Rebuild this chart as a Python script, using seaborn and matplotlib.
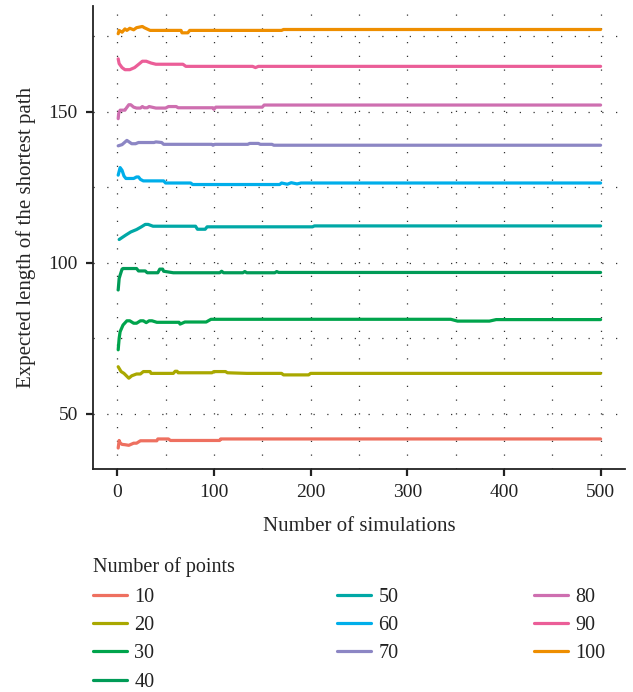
import numpy as np
import pandas as pd
import matplotlib
matplotlib.use('Agg')
import matplotlib.pyplot as plt
from matplotlib.ticker import MultipleLocator
from matplotlib.lines import Line2D
import seaborn as sns

# running mean of the shortest path length (breakpoints)
points = [10, 20, 30, 40, 50, 60, 70, 80, 90, 100]

s10_x = [1, 2, 3, 5, 8, 12, 17, 20, 24, 41, 42, 53, 55, 106, 107, 500]
s10_y = [38.7, 41.2, 40.4, 39.9, 39.8, 39.6, 40.3, 40.3, 41.1, 41.1, 41.7, 41.7, 41.2, 41.2, 41.7, 41.7]

s20_x = [1, 4, 7, 12, 15, 20, 24, 27, 34, 35, 58, 60, 62, 63, 98, 100, 112, 114, 134, 170, 172, 198, 200, 500]
s20_y = [65.6, 64.0, 63.4, 61.8, 62.6, 63.2, 63.2, 64.0, 64.0, 63.4, 63.4, 64.1, 64.1, 63.6, 63.6, 64.0, 64.0, 63.6, 63.4, 63.4, 62.9, 62.9, 63.4, 63.4]

s30_x = [1, 2, 3, 6, 10, 13, 17, 20, 24, 27, 30, 33, 36, 41, 64, 65, 70, 92, 97, 345, 352, 385, 392, 500]
s30_y = [71.2, 75.0, 77.2, 79.4, 80.8, 80.8, 80.0, 80.0, 80.8, 80.8, 80.2, 80.8, 80.8, 80.3, 80.3, 79.7, 80.4, 80.4, 81.3, 81.3, 80.7, 80.7, 81.2, 81.2]

s40_x = [1, 2, 3, 5, 6, 20, 22, 29, 31, 42, 44, 47, 48, 52, 58, 106, 108, 110, 130, 132, 134, 163, 165, 167, 500]
s40_y = [91.0, 94.8, 95.9, 97.9, 98.1, 98.1, 97.3, 97.3, 96.7, 96.7, 97.9, 97.9, 97.2, 97.0, 96.7, 96.7, 97.2, 96.7, 96.7, 97.1, 96.7, 96.7, 97.1, 96.8, 96.8]

s50_x = [2, 9, 14, 20, 25, 29, 32, 37, 81, 83, 91, 93, 202, 204, 500]
s50_y = [107.7, 109.2, 110.2, 111.0, 111.9, 112.7, 112.7, 112.1, 112.1, 111.1, 111.1, 111.9, 111.9, 112.2, 112.2]

s60_x = [1, 3, 5, 7, 9, 17, 20, 22, 24, 27, 48, 50, 76, 78, 168, 170, 176, 180, 186, 190, 500]
s60_y = [129.0, 131.5, 130.6, 128.7, 127.9, 127.9, 128.4, 128.4, 127.6, 127.1, 127.1, 126.4, 126.4, 125.9, 125.9, 126.4, 126.0, 126.5, 126.1, 126.4, 126.4]

s70_x = [1, 5, 10, 15, 19, 22, 38, 40, 46, 48, 98, 99, 101, 135, 137, 146, 148, 160, 162, 500]
s70_y = [138.7, 139.1, 140.5, 139.4, 139.4, 139.8, 139.8, 140.0, 139.8, 139.2, 139.2, 138.9, 139.2, 139.2, 139.5, 139.5, 139.2, 139.2, 138.9, 138.9]

s80_x = [1, 1.5, 3, 8, 9, 12, 14, 17, 20, 24, 26, 28, 31, 33, 40, 50, 53, 61, 63, 99, 100, 102, 150, 152, 500]
s80_y = [147.7, 149.4, 150.5, 150.5, 151.0, 152.3, 152.3, 151.5, 151.2, 151.2, 151.7, 151.3, 151.3, 151.7, 151.2, 151.2, 151.7, 151.7, 151.3, 151.3, 150.8, 151.5, 151.5, 152.2, 152.2]

s90_x = [1, 2, 5, 8, 13, 18, 23, 26, 30, 35, 40, 68, 71, 140, 143, 146, 500]
s90_y = [167.5, 165.9, 164.6, 163.9, 163.9, 164.6, 165.9, 166.7, 166.7, 166.1, 165.7, 165.7, 165.0, 165.0, 164.6, 165.0, 165.0]

s100_x = [1, 2, 5, 8, 10, 13, 17, 20, 26, 28, 34, 66, 67, 73, 75, 170, 172, 500]
s100_y = [175.8, 176.9, 176.3, 177.4, 176.9, 177.6, 177.1, 177.8, 178.2, 177.8, 176.9, 176.9, 176.1, 176.1, 176.9, 176.9, 177.2, 177.2]

colors = ['#EE7060', '#A9A800', '#00A44C', '#009B57', '#00A8A6',
          '#00AEEA', '#8C86C4', '#CE6FB0', '#EB5E98', '#EE8E00']

series_x = [s10_x, s20_x, s30_x, s40_x, s50_x, s60_x, s70_x, s80_x, s90_x, s100_x]
series_y = [s10_y, s20_y, s30_y, s40_y, s50_y, s60_y, s70_y, s80_y, s90_y, s100_y]

frames = []
for n, xs, ys in zip(points, series_x, series_y):
    frames.append(pd.DataFrame({'sim': xs, 'length': ys, 'npoints': str(n)}))
df = pd.concat(frames, ignore_index=True)

sns.set_theme(style='white')
plt.rcParams['font.family'] = ['Liberation Serif', 'DejaVu Serif']
plt.rcParams['text.color'] = '#222222'

fig = plt.figure(figsize=(6.33, 6.92), dpi=100)
ax = fig.add_axes([0.147, 0.322, 0.840, 0.669])

labels = [str(n) for n in points]
palette = dict(zip(labels, colors))
sns.lineplot(data=df, x='sim', y='length', hue='npoints', hue_order=labels,
             palette=palette, linewidth=2.3, legend=False, ax=ax, sort=False)

ax.set_xlim(-25, 525)
ax.set_ylim(31.7, 184.9)
ax.xaxis.set_major_locator(MultipleLocator(100))
ax.xaxis.set_minor_locator(MultipleLocator(50))
ax.yaxis.set_major_locator(MultipleLocator(50))
ax.yaxis.set_minor_locator(MultipleLocator(25))

grid_style = dict(color='#333333', linestyle=(0, (1, 10)), linewidth=0.9)
ax.grid(True, which='major', **grid_style)
ax.grid(True, which='minor', **grid_style)
ax.set_axisbelow(True)

for side in ['top', 'right']:
    ax.spines[side].set_visible(False)
for side in ['left', 'bottom']:
    ax.spines[side].set_color('#222222')
    ax.spines[side].set_linewidth(1.3)

ax.tick_params(which='major', direction='out', length=5, width=1.6, color='#222222',
               labelsize=14, labelcolor='#222222', pad=6, left=True, bottom=True)
ax.tick_params(which='minor', length=0)

ax.set_xlabel('Number of simulations', fontsize=15, labelpad=11)
ax.set_ylabel('Expected length of the shortest path', fontsize=15, labelpad=9)

# legend at the bottom: 3 columns (4, 3, 3)
fig.text(93 / 633, 1 - 567 / 692, 'Number of points', fontsize=14.5,
         ha='left', va='center')
handles = [Line2D([], [], color=c, linewidth=2.3) for c in colors]
col_groups = [(0, 4, 93), (4, 7, 337), (7, 10, 534)]
for start, stop, xpix in col_groups:
    fig.legend(handles[start:stop], labels[start:stop], loc='upper left',
               bbox_to_anchor=(xpix / 633, 1 - 588 / 692), frameon=False,
               fontsize=14.5, handlelength=1.7, handletextpad=0.35,
               labelspacing=0.45, borderpad=0, borderaxespad=0)

fig.savefig('out.png', dpi=100)
